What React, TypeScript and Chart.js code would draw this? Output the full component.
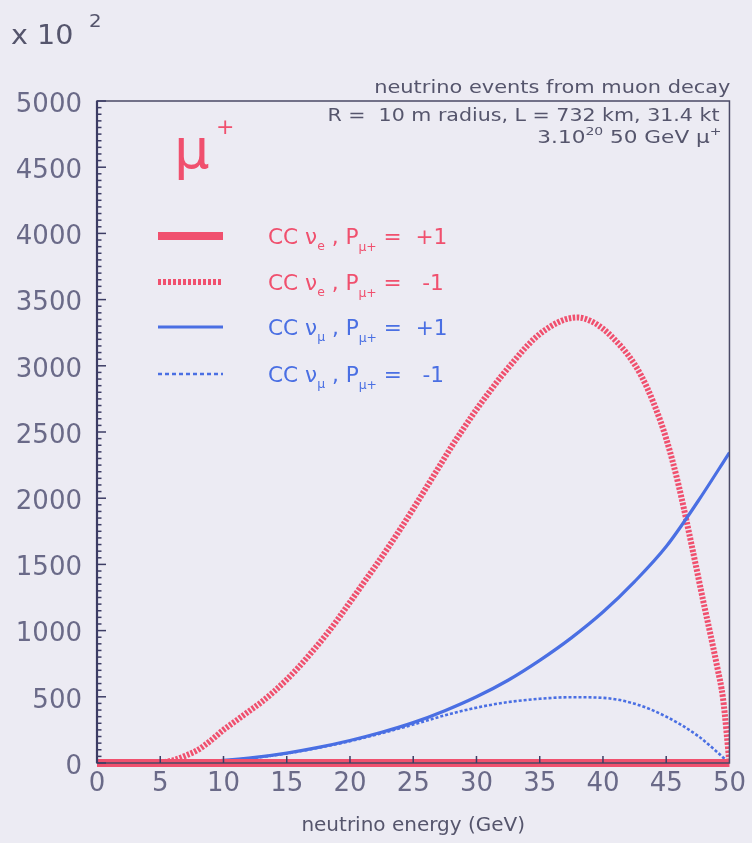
import React, { useEffect, useRef } from "react";
import { Chart, registerables } from "chart.js";
Chart.register(...registerables);

// neutrino energy (GeV) for the CC nu_e, P = -1 curve
const redEnergy = [5, 6, 7, 8, 9, 10, 11, 12, 13, 14, 15, 16, 17, 18, 19, 20, 21, 22, 23, 24, 25, 26, 27, 28, 29, 30, 31, 32, 33, 34, 35, 36, 37, 38, 39, 40, 41, 42, 43, 44, 45, 46, 47, 48, 48.5, 49, 49.5, 50];
const ccNueMinus = [0, 20, 55, 100, 170, 250, 320, 390, 460, 540, 630, 730, 840, 955, 1080, 1215, 1350, 1485, 1625, 1770, 1920, 2075, 2230, 2385, 2530, 2670, 2800, 2925, 3040, 3150, 3240, 3305, 3350, 3365, 3340, 3280, 3190, 3080, 2930, 2720, 2450, 2090, 1650, 1190, 970, 740, 480, 0];

// CC nu_e, P = +1 (flat at zero)
const baseEnergy = [0, 50];
const ccNuePlus = [0, 0];

// CC nu_mu curves
const blueEnergy = [5, 7.5, 10, 12.5, 15, 17.5, 20, 22.5, 25, 27.5, 30, 32.5, 35, 37.5, 40, 42.5, 45, 47.5, 50];
const ccNumuPlus = [0, 5, 20, 42, 75, 118, 170, 232, 305, 395, 500, 625, 775, 945, 1140, 1370, 1635, 1975, 2345];
const ccNumuMinus = [0, 5, 18, 40, 72, 115, 165, 225, 290, 360, 418, 460, 485, 497, 492, 448, 350, 205, 0];

const X_MIN = 0, X_MAX = 50, X_STEP = 5;
const Y_MIN = 0, Y_MAX = 5000, Y_STEP = 500, Y_MINOR = 50;

const RED = "#f0506e";
const BLUE = "#4a6fe3";
const BG = "#ecebf3";
const TXT = "#55556c";
const TICK_TXT = "#6a6a88";
const FRAME = "#4a4a66";
const FONT = '"DejaVu Sans"';

type Seg = { t: string; size: number; dy?: number };

function rich(ctx: CanvasRenderingContext2D, segs: Seg[], x: number, y: number, color: string, align: "left" | "right", sx: number) {
  ctx.save();
  ctx.fillStyle = color;
  ctx.textBaseline = "alphabetic";
  const widths = segs.map((s) => {
    ctx.font = `${s.size}px ${FONT}`;
    return ctx.measureText(s.t).width * sx;
  });
  const total = widths.reduce((a, b) => a + b, 0);
  let cx = align === "right" ? x - total : x;
  segs.forEach((s, i) => {
    ctx.save();
    ctx.font = `${s.size}px ${FONT}`;
    ctx.translate(cx, y + (s.dy || 0));
    ctx.scale(sx, 1);
    ctx.fillText(s.t, 0, 0);
    ctx.restore();
    cx += widths[i];
  });
  ctx.restore();
}

const decorPlugin = {
  id: "decor",
  afterDatasetsDraw(chart: any) {
    const ctx: CanvasRenderingContext2D = chart.ctx;
    const { left, right, top, bottom } = chart.chartArea;
    const xs = chart.scales.x;
    const ys = chart.scales.y;
    ctx.save();
    // frame
    ctx.strokeStyle = FRAME;
    ctx.lineWidth = 1.5;
    ctx.strokeRect(left, top, right - left, bottom - top);
    ctx.lineWidth = 2.2;
    ctx.strokeStyle = "#3c3c64";
    ctx.beginPath();
    ctx.moveTo(left, top);
    ctx.lineTo(left, bottom);
    ctx.stroke();
    // y ticks (inside)
    ctx.lineWidth = 1.5;
    for (let v = Y_MIN; v <= Y_MAX; v += Y_MINOR) {
      const py = ys.getPixelForValue(v);
      const len = v % Y_STEP === 0 ? 9 : 4.5;
      ctx.beginPath();
      ctx.moveTo(left, py);
      ctx.lineTo(left + len, py);
      ctx.stroke();
    }
    // x ticks (inside)
    for (let v = X_MIN + X_STEP; v < X_MAX; v += X_STEP) {
      const px = xs.getPixelForValue(v);
      ctx.beginPath();
      ctx.moveTo(px, bottom);
      ctx.lineTo(px, bottom - 7);
      ctx.stroke();
    }
    ctx.restore();

    // exponent label
    rich(ctx, [{ t: "x 10", size: 26 }], 11, 44, TXT, "left", 1.1);
    rich(ctx, [{ t: "2", size: 18 }], 89, 27, TXT, "left", 1.1);

    // top-right annotations
    rich(ctx, [{ t: "neutrino events from muon decay", size: 17 }], right + 1, 93, TXT, "right", 1.23);
    rich(ctx, [{ t: "R =  10 m radius, L = 732 km, 31.4 kt", size: 17 }], right - 10, 121, TXT, "right", 1.21);
    rich(ctx, [{ t: "3.10", size: 17 }, { t: "20", size: 11, dy: -8 }, { t: " 50 GeV μ", size: 17 }, { t: "+", size: 11, dy: -8 }], right - 8, 143, TXT, "right", 1.27);

    // mu+ header
    rich(ctx, [{ t: "μ", size: 56 }], 174, 168, RED, "left", 1);
    rich(ctx, [{ t: "+", size: 22 }], 216, 134, RED, "left", 1);

    // legend rows
    const rows = [
      { y: 236, color: RED, w: 8, dash: [] as number[], sub: "e", p: "+1" },
      { y: 282, color: RED, w: 6, dash: [3, 2], sub: "e", p: " -1" },
      { y: 327, color: BLUE, w: 3, dash: [] as number[], sub: "μ", p: "+1" },
      { y: 374, color: BLUE, w: 2.5, dash: [4, 3], sub: "μ", p: " -1" },
    ];
    rows.forEach((r) => {
      ctx.save();
      ctx.strokeStyle = r.color;
      ctx.lineWidth = r.w;
      ctx.setLineDash(r.dash);
      ctx.beginPath();
      ctx.moveTo(158, r.y);
      ctx.lineTo(223, r.y);
      ctx.stroke();
      ctx.restore();
      rich(
        ctx,
        [
          { t: "CC ν", size: 21 },
          { t: r.sub, size: 12, dy: 6 },
          { t: " , P", size: 21 },
          { t: "μ+", size: 12, dy: 7 },
          { t: " =  " + r.p, size: 21 },
        ],
        268,
        r.y + 8,
        r.color,
        "left",
        1.03
      );
    });
  },
};

export default function App() {
  const ref = useRef<HTMLCanvasElement | null>(null);
  useEffect(() => {
    document.body.style.margin = "0";
    const canvas = ref.current!;
    const chart = new Chart(canvas, {
      type: "line",
      data: {
        datasets: [
          {
            label: "CC nu_e, P = +1",
            data: baseEnergy.map((x, i) => ({ x, y: ccNuePlus[i] })),
            borderColor: RED,
            borderWidth: 8,
            pointRadius: 0,
            clip: false,
          },
          {
            label: "CC nu_mu, P = -1",
            data: blueEnergy.map((x, i) => ({ x, y: ccNumuMinus[i] })),
            borderColor: BLUE,
            borderWidth: 2.6,
            borderDash: [3, 2],
            pointRadius: 0,
            cubicInterpolationMode: "monotone",
          },
          {
            label: "CC nu_mu, P = +1",
            data: blueEnergy.map((x, i) => ({ x, y: ccNumuPlus[i] })),
            borderColor: BLUE,
            borderWidth: 3.2,
            pointRadius: 0,
            cubicInterpolationMode: "monotone",
          },
          {
            label: "CC nu_e, P = -1",
            data: redEnergy.map((x, i) => ({ x, y: ccNueMinus[i] })),
            borderColor: RED,
            borderWidth: 6,
            borderDash: [2.5, 1.5],
            pointRadius: 0,
            cubicInterpolationMode: "monotone",
          },
        ],
      },
      options: {
        animation: false,
        responsive: false,
        maintainAspectRatio: false,
        layout: { padding: { top: 101, right: 21, left: 0, bottom: 0 } },
        plugins: { legend: { display: false }, tooltip: { enabled: false } },
        scales: {
          x: {
            type: "linear",
            min: X_MIN,
            max: X_MAX,
            ticks: { stepSize: X_STEP, font: { family: "DejaVu Sans", size: 26 }, color: TICK_TXT, padding: 6, maxRotation: 0, autoSkip: false, callback: (v: any) => String(v) },
            grid: { display: false, drawTicks: false },
            border: { display: false },
            title: { display: true, text: "neutrino energy (GeV)", font: { family: "DejaVu Sans", size: 20 }, color: TXT, padding: { top: 0, bottom: 5 } },
            afterFit: (s: any) => { s.height = 80; },
          },
          y: {
            min: Y_MIN,
            max: Y_MAX,
            ticks: { stepSize: Y_STEP, font: { family: "DejaVu Sans", size: 26 }, color: TICK_TXT, padding: 15, labelOffset: 4, callback: (v: any) => String(v) },
            grid: { display: false, drawTicks: false },
            border: { display: false },
            afterFit: (s: any) => { s.width = 97; },
          },
        },
      },
      plugins: [decorPlugin],
    } as any);
    return () => chart.destroy();
  }, []);
  return (
    <div style={{ position: "absolute", left: 0, top: 0, width: 752, height: 843, background: BG }}>
      <canvas ref={ref} width={752} height={843} style={{ display: "block", width: 752, height: 843 }} />
    </div>
  );
}
